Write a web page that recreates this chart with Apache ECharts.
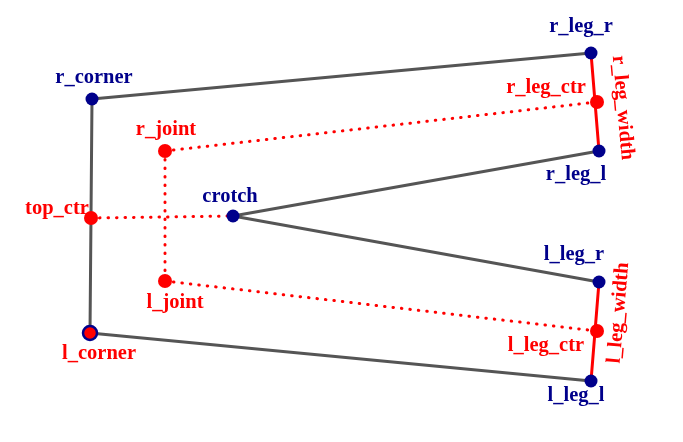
<!DOCTYPE html>
<html>
<head>
<meta charset="utf-8">
<script src="https://cdn.jsdelivr.net/npm/echarts@6/dist/echarts.min.js"></script>
<style>
html, body { margin: 0; padding: 0; background: #fff; }
#chart { width: 683px; height: 442px; }
</style>
</head>
<body>
<div id="chart"></div>
<script>
// points of the diagram (screen-like units, y grows downward)
var pointNames = ['r_corner', 'r_leg_r', 'r_leg_ctr', 'r_leg_l', 'r_joint', 'top_ctr',
	'crotch', 'l_joint', 'l_leg_r', 'l_leg_ctr', 'l_leg_l', 'l_corner'];
var pointX = [92, 591, 597, 599, 165, 91, 233, 165, 599, 597, 591, 90];
var pointY = [99, 53, 102, 151, 151, 218, 216, 281, 282, 331, 381, 333];

var bluePoints = ['r_corner', 'r_leg_r', 'r_leg_l', 'crotch', 'l_leg_r', 'l_leg_l'];
var redPoints = ['r_leg_ctr', 'r_joint', 'top_ctr', 'l_joint', 'l_leg_ctr', 'l_corner'];

var outlineEdges = [
	['r_corner', 'r_leg_r'], ['r_leg_l', 'crotch'], ['crotch', 'l_leg_r'],
	['l_leg_l', 'l_corner'], ['l_corner', 'r_corner']
];
var legEdges = [['r_leg_r', 'r_leg_l'], ['l_leg_r', 'l_leg_l']];
var dottedEdges = [
	['top_ctr', 'crotch'], ['r_joint', 'r_leg_ctr'], ['l_joint', 'l_leg_ctr'], ['r_joint', 'l_joint']
];
var widthLabels = [['r_leg_width', 'r_leg_ctr'], ['l_leg_width', 'l_leg_ctr']];

// label placement (offset of label centre from the point)
var labelOffset = {
	r_corner: [2, -21], r_leg_r: [-10, -26], r_leg_ctr: [-51, -14], r_leg_l: [-23, 24],
	r_joint: [1, -21], top_ctr: [-34, -9], crotch: [-3, -19], l_joint: [10, 22],
	l_leg_r: [-25, -27], l_leg_ctr: [-51, 15], l_leg_l: [-15, 15], l_corner: [9, 21]
};
var widthStyle = {
	r_leg_width: { rotate: -85, offset: [8, -25] },
	l_leg_width: { rotate: 85, offset: [20, 20] }
};

var BLUE = '#00008B', RED = '#ff0000', GRAY = '#555555';
var FONT = { fontFamily: 'Liberation Serif', fontWeight: 'bold', fontSize: 20.5, opacity: 1 };

function pt(name) {
	var i = pointNames.indexOf(name);
	return [pointX[i], pointY[i]];
}

function edgeSeries(edges, color, type) {
	return edges.map(function (e) {
		return {
			type: 'line',
			data: [pt(e[0]), pt(e[1])],
			showSymbol: false,
			silent: true,
			z: type === 'solid' ? 2 : 1,
			lineStyle: { color: color, width: 3, type: type, cap: 'round', opacity: 1 }
		};
	});
}

function pointItem(name, color, border) {
	return {
		name: name,
		value: pt(name),
		itemStyle: border
			? { color: RED, borderColor: BLUE, borderWidth: 2.5, opacity: 1 }
			: { color: color, opacity: 1 },
		label: Object.assign({
			show: true, formatter: name, position: 'inside', offset: labelOffset[name],
			color: bluePoints.indexOf(name) >= 0 ? BLUE : RED,
			align: 'center', verticalAlign: 'middle'
		}, FONT)
	};
}

var myChart = echarts.init(document.getElementById('chart'));

var series = []
	.concat(edgeSeries(outlineEdges, GRAY, 'solid'))
	.concat(edgeSeries(legEdges, RED, 'solid'))
	.concat(edgeSeries(dottedEdges, RED, [0.5, 8]));

series.push({
	type: 'scatter',
	symbolSize: 13,
	z: 5,
	itemStyle: { opacity: 1 },
	data: bluePoints.map(function (n) { return pointItem(n, BLUE, false); })
});
series.push({
	type: 'scatter',
	symbolSize: 14,
	z: 5,
	itemStyle: { opacity: 1 },
	data: redPoints.map(function (n) { return pointItem(n, RED, n === 'l_corner'); })
});
series.push({
	type: 'scatter',
	symbolSize: 1,
	z: 6,
	silent: true,
	itemStyle: { opacity: 1, color: 'rgba(0,0,0,0)' },
	data: widthLabels.map(function (w) {
		return {
			name: w[0],
			value: pt(w[1]),
			label: Object.assign({
				show: true, formatter: w[0], position: 'inside', color: RED,
				rotate: widthStyle[w[0]].rotate, offset: widthStyle[w[0]].offset,
				align: 'center', verticalAlign: 'middle'
			}, FONT)
		};
	})
});

option = {
	animation: false,
	backgroundColor: '#fff',
	grid: { left: 0, right: 0, top: 0, bottom: 0 },
	xAxis: { type: 'value', min: 0, max: 683, show: false },
	yAxis: { type: 'value', min: 0, max: 442, inverse: true, show: false },
	series: series
};

myChart.setOption(option);
</script>
</body>
</html>
